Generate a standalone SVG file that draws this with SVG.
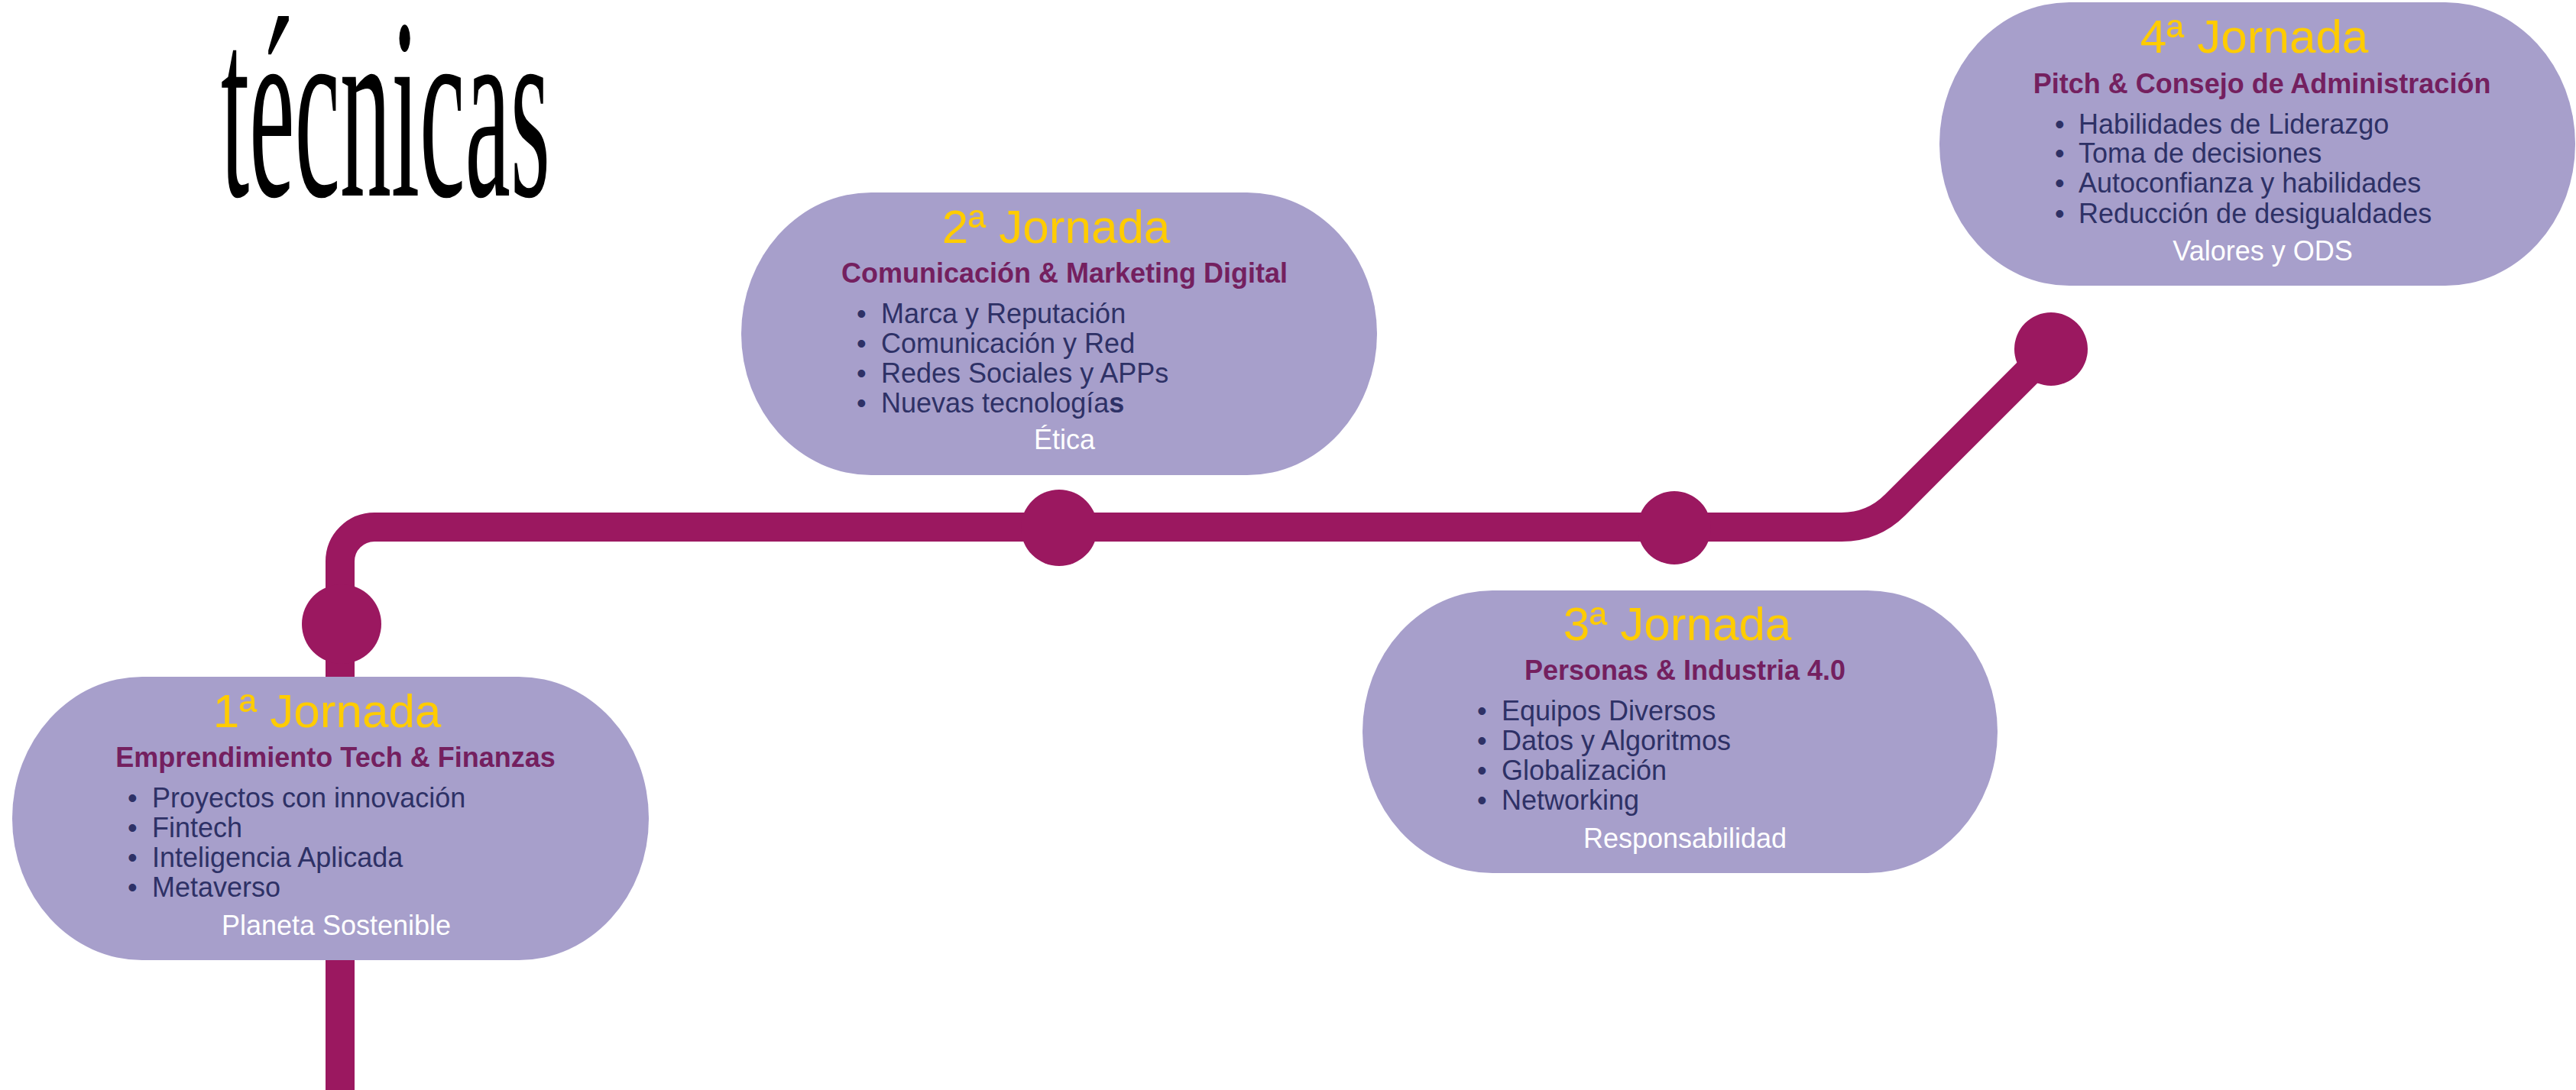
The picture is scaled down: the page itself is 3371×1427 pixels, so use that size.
<svg xmlns="http://www.w3.org/2000/svg" width="3371" height="1427" viewBox="0 0 3371 1427">
<style>
.node rect{fill:#A79FCB;}
.t{font-family:"Liberation Sans",Arial,sans-serif;}
.title{font-size:62px;fill:#FFCC00;text-anchor:middle;}
.sub{font-size:36px;font-weight:bold;fill:#74205F;text-anchor:middle;}
.li{font-size:36px;fill:#2E3166;}
.foot{font-size:36px;fill:#FFFFFF;text-anchor:middle;}
.dot{fill:#9B1860;}
</style>
<rect width="3371" height="1427" fill="#FFFFFF"/>
<text x="289" y="256" font-family="'Liberation Serif','Times New Roman',serif" font-size="338" fill="#000000" textLength="431" lengthAdjust="spacingAndGlyphs">técnicas</text>
<g id="connectors">
<path d="M445,1427 V735 A45,45 0 0 1 490,690 H2410 Q2451,690 2480,661 L2684,457" fill="none" stroke="#9B1860" stroke-width="38" stroke-linejoin="round"/>
<circle class="dot" cx="447" cy="817" r="52"/>
<circle class="dot" cx="1386" cy="691" r="50"/>
<circle class="dot" cx="2191" cy="691" r="48"/>
<circle class="dot" cx="2684" cy="457" r="48"/>
</g>
<g id="node1" class="node t" transform="translate(16,886)">
<rect x="0" y="0" width="833" height="371" rx="170" ry="185"/>
<text class="title" x="412" y="66">1ª Jornada</text>
<text class="sub" x="423" y="118">Emprendimiento Tech &amp; Finanzas</text>
<text class="li" y="171"><tspan x="151">•</tspan><tspan x="183">Proyectos con innovación</tspan></text>
<text class="li" y="210"><tspan x="151">•</tspan><tspan x="183">Fintech</tspan></text>
<text class="li" y="249"><tspan x="151">•</tspan><tspan x="183">Inteligencia Aplicada</tspan></text>
<text class="li" y="288"><tspan x="151">•</tspan><tspan x="183">Metaverso</tspan></text>
<text class="foot" x="424" y="338">Planeta Sostenible</text>
</g>
<g id="node2" class="node t" transform="translate(970,252)">
<rect x="0" y="0" width="832" height="370" rx="170" ry="185"/>
<text class="title" x="412" y="66">2ª Jornada</text>
<text class="sub" x="423" y="118">Comunicación &amp; Marketing Digital</text>
<text class="li" y="171"><tspan x="151">•</tspan><tspan x="183">Marca y Reputación</tspan></text>
<text class="li" y="210"><tspan x="151">•</tspan><tspan x="183">Comunicación y Red</tspan></text>
<text class="li" y="249"><tspan x="151">•</tspan><tspan x="183">Redes Sociales y APPs</tspan></text>
<text class="li" y="288"><tspan x="151">•</tspan><tspan x="183">Nuevas tecnología<tspan font-weight="bold">s</tspan></tspan></text>
<text class="foot" x="423" y="336">Ética</text>
</g>
<g id="node3" class="node t" transform="translate(1783,773)">
<rect x="0" y="0" width="831" height="370" rx="170" ry="185"/>
<text class="title" x="412" y="65">3ª Jornada</text>
<text class="sub" x="422" y="117">Personas &amp; Industria 4.0</text>
<text class="li" y="170"><tspan x="150">•</tspan><tspan x="182">Equipos Diversos</tspan></text>
<text class="li" y="209"><tspan x="150">•</tspan><tspan x="182">Datos y Algoritmos</tspan></text>
<text class="li" y="248"><tspan x="150">•</tspan><tspan x="182">Globalización</tspan></text>
<text class="li" y="287"><tspan x="150">•</tspan><tspan x="182">Networking</tspan></text>
<text class="foot" x="422" y="337">Responsabilidad</text>
</g>
<g id="node4" class="node t" transform="translate(2538,3)">
<rect x="0" y="0" width="832" height="371" rx="170" ry="185"/>
<text class="title" x="412" y="66">4ª Jornada</text>
<text class="sub" x="422" y="119">Pitch &amp; Consejo de Administración</text>
<text class="li" y="172"><tspan x="151">•</tspan><tspan x="182">Habilidades de Liderazgo</tspan></text>
<text class="li" y="210"><tspan x="151">•</tspan><tspan x="182">Toma de decisiones</tspan></text>
<text class="li" y="249"><tspan x="151">•</tspan><tspan x="182">Autoconfianza y habilidades</tspan></text>
<text class="li" y="289"><tspan x="151">•</tspan><tspan x="182">Reducción de desigualdades</tspan></text>
<text class="foot" x="423" y="338">Valores y ODS</text>
</g>
</svg>
